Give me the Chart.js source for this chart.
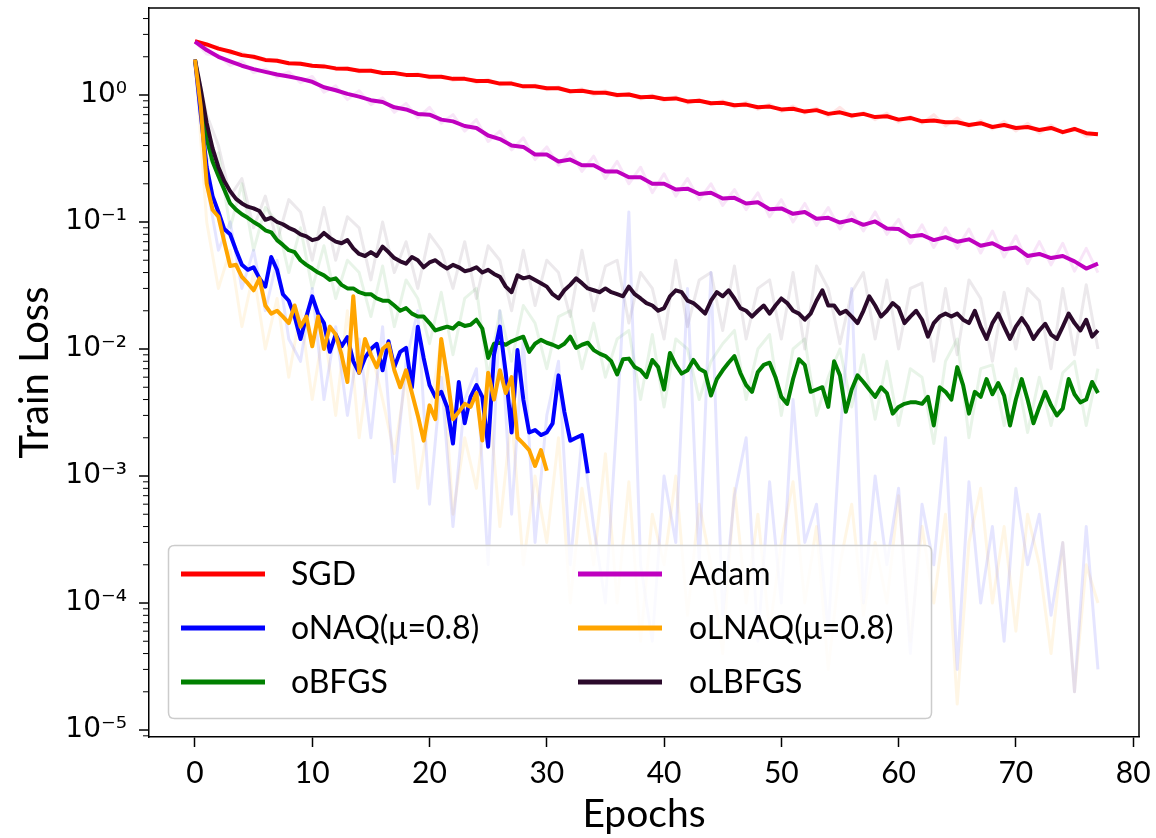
<!DOCTYPE html>
<html><head><meta charset="utf-8">
<script src="https://cdn.jsdelivr.net/npm/chart.js@4/dist/chart.umd.min.js"></script>
<style>html,body{margin:0;padding:0;background:#fff}#wrap{width:1156px;height:838px;position:relative}</style>
</head><body><div id="wrap"><canvas id="c"></canvas></div>
<script>
// ---------- data ----------
const xTickValues = [0,10,20,30,40,50,60,70,80];
const yMajorTicks = [1e-5,1e-4,1e-3,1e-2,1e-1,1];
const yTickLabels = ['10\u207B\u2075','10\u207B\u2074','10\u207B\u00B3','10\u207B\u00B2','10\u207B\u00B9','10\u2070'];

// smoothed curves; SGD/Adam sampled every 1 epoch, others every 0.5 epoch
const sgdLoss = [2.65,2.50,2.32,2.20,2.06,2.00,1.89,1.86,1.78,1.76,1.70,1.68,1.62,1.61,1.55,1.55,1.49,1.49,1.44,1.44,1.39,1.39,1.34,1.34,1.29,1.29,1.23,1.23,1.17,1.17,1.13,1.13,1.07,1.08,1.04,1.04,1.00,1.01,0.96,0.97,0.93,0.94,0.89,0.90,0.86,0.87,0.83,0.84,0.80,0.81,0.77,0.78,0.74,0.76,0.71,0.73,0.69,0.71,0.67,0.68,0.64,0.66,0.62,0.63,0.61,0.61,0.58,0.60,0.56,0.58,0.55,0.56,0.53,0.55,0.51,0.54,0.50,0.49];
const adamLoss = [2.63,2.26,2.00,1.84,1.70,1.60,1.52,1.45,1.40,1.34,1.27,1.15,1.09,1.02,0.97,0.91,0.88,0.80,0.77,0.71,0.70,0.64,0.62,0.57,0.55,0.48,0.45,0.40,0.39,0.34,0.34,0.30,0.31,0.28,0.28,0.25,0.25,0.225,0.225,0.20,0.20,0.18,0.183,0.166,0.17,0.153,0.155,0.14,0.143,0.126,0.128,0.116,0.12,0.106,0.108,0.099,0.104,0.095,0.101,0.089,0.088,0.077,0.079,0.072,0.076,0.070,0.073,0.065,0.068,0.061,0.063,0.054,0.056,0.052,0.054,0.049,0.043,0.047];
const onaqLoss = [1.9,0.7,0.27,0.16,0.12,0.088,0.08,0.06,0.046,0.042,0.044,0.036,0.031,0.053,0.042,0.027,0.024,0.018,0.012,0.018,0.026,0.019,0.016,0.0095,0.013,0.0105,0.0124,0.008,0.0065,0.0085,0.01,0.011,0.0068,0.0115,0.0072,0.0095,0.0102,0.005,0.015,0.0085,0.0052,0.0042,0.0046,0.0035,0.0018,0.0055,0.0026,0.0042,0.0052,0.0042,0.0017,0.009,0.015,0.0065,0.0022,0.0098,0.004,0.0022,0.0023,0.0021,0.0022,0.0026,0.0062,0.0032,0.0019,0.002,0.0021,0.00105];
const olnaqLoss = [1.9,0.8,0.2,0.125,0.11,0.07,0.045,0.046,0.037,0.033,0.029,0.036,0.022,0.019,0.02,0.018,0.016,0.022,0.015,0.018,0.0105,0.018,0.01,0.015,0.013,0.009,0.0055,0.026,0.0065,0.012,0.009,0.0072,0.01,0.011,0.0068,0.005,0.0068,0.0045,0.003,0.0019,0.0036,0.0028,0.012,0.0062,0.0028,0.0032,0.0037,0.0035,0.0045,0.0019,0.0065,0.004,0.0068,0.0045,0.006,0.002,0.0018,0.0016,0.0012,0.0016,0.0011];
const obfgsLoss = [1.9,0.9,0.45,0.30,0.23,0.18,0.14,0.125,0.115,0.108,0.10,0.094,0.086,0.083,0.072,0.066,0.06,0.058,0.05,0.046,0.043,0.040,0.038,0.035,0.036,0.032,0.030,0.030,0.028,0.027,0.027,0.025,0.024,0.024,0.022,0.020,0.021,0.019,0.018,0.018,0.016,0.014,0.0145,0.015,0.0145,0.016,0.0152,0.0155,0.017,0.0145,0.0085,0.011,0.0112,0.0108,0.0115,0.012,0.0125,0.0095,0.011,0.0118,0.0112,0.0108,0.0103,0.011,0.0125,0.0102,0.0108,0.0112,0.0098,0.0092,0.0088,0.0080,0.0063,0.0083,0.0084,0.0072,0.0068,0.0060,0.0082,0.0072,0.0048,0.0093,0.0075,0.0064,0.0068,0.0082,0.0070,0.0066,0.0043,0.0058,0.0068,0.0078,0.0088,0.0065,0.0052,0.0046,0.0066,0.0075,0.0078,0.0060,0.0042,0.0037,0.0058,0.0083,0.0075,0.0046,0.0048,0.0050,0.0035,0.0080,0.0062,0.0032,0.0048,0.0062,0.0055,0.0048,0.0042,0.0050,0.0045,0.0031,0.0035,0.0037,0.0038,0.0038,0.0037,0.0042,0.0025,0.0050,0.0046,0.0040,0.0072,0.0052,0.0031,0.0046,0.0042,0.0058,0.0044,0.0054,0.0043,0.0025,0.0040,0.0058,0.0040,0.0026,0.0035,0.0046,0.0036,0.0030,0.0034,0.0058,0.0044,0.0038,0.0040,0.0055,0.0045];
const olbfgsLoss = [1.9,1.1,0.60,0.38,0.27,0.21,0.175,0.152,0.14,0.132,0.128,0.122,0.104,0.108,0.10,0.096,0.09,0.086,0.08,0.077,0.072,0.074,0.082,0.075,0.070,0.068,0.072,0.062,0.056,0.054,0.058,0.054,0.064,0.058,0.052,0.049,0.047,0.053,0.050,0.044,0.048,0.050,0.046,0.043,0.046,0.044,0.041,0.042,0.044,0.040,0.042,0.039,0.037,0.031,0.028,0.038,0.036,0.037,0.035,0.033,0.031,0.027,0.025,0.029,0.032,0.036,0.033,0.030,0.029,0.028,0.030,0.028,0.027,0.026,0.031,0.027,0.025,0.023,0.022,0.020,0.021,0.026,0.029,0.028,0.024,0.023,0.021,0.019,0.024,0.028,0.026,0.029,0.025,0.021,0.020,0.018,0.020,0.022,0.019,0.022,0.025,0.023,0.020,0.019,0.017,0.019,0.024,0.029,0.022,0.022,0.019,0.020,0.018,0.016,0.020,0.026,0.022,0.018,0.020,0.023,0.021,0.016,0.018,0.020,0.017,0.0125,0.016,0.018,0.019,0.018,0.019,0.017,0.016,0.020,0.015,0.012,0.016,0.019,0.015,0.012,0.015,0.0175,0.015,0.012,0.014,0.0158,0.013,0.012,0.015,0.019,0.016,0.014,0.017,0.0125,0.014];

// raw (unsmoothed) losses, every 1 epoch, drawn faint
const sgdRaw = [2.7,2.4,2.4,2.1,2.15,1.95,1.85,1.9,1.75,1.8,1.68,1.72,1.58,1.65,1.52,1.58,1.46,1.5,1.42,1.48,1.36,1.4,1.3,1.36,1.25,1.33,1.2,1.26,1.15,1.2,1.1,1.16,1.05,1.12,1.0,1.08,0.97,1.03,0.93,1.0,0.9,0.97,0.86,0.92,0.84,0.9,0.8,0.88,0.77,0.85,0.74,0.82,0.72,0.79,0.68,0.8,0.67,0.73,0.64,0.72,0.61,0.68,0.6,0.7,0.57,0.66,0.56,0.63,0.54,0.62,0.52,0.6,0.5,0.58,0.5,0.55,0.47,0.5];
const adamRaw = [2.63,2.1,2.05,1.7,1.85,1.5,1.6,1.38,1.52,1.25,1.4,1.05,1.18,0.92,1.08,0.84,0.95,0.73,0.86,0.66,0.8,0.6,0.7,0.52,0.64,0.43,0.52,0.37,0.46,0.31,0.39,0.28,0.36,0.25,0.33,0.22,0.3,0.2,0.27,0.17,0.24,0.16,0.22,0.15,0.2,0.135,0.18,0.125,0.17,0.11,0.15,0.1,0.14,0.094,0.13,0.088,0.12,0.085,0.12,0.08,0.105,0.068,0.095,0.063,0.09,0.062,0.088,0.057,0.085,0.053,0.078,0.047,0.07,0.046,0.068,0.041,0.062,0.04];
const onaqRaw = [1.9,0.2,0.06,0.1,0.03,0.06,0.02,0.05,0.012,0.008,0.03,0.004,0.015,0.003,0.012,0.002,0.015,0.0009,0.008,0.02,0.0006,0.006,0.0004,0.004,0.007,0.0002,0.02,0.0005,0.012,0.0003,0.003,0.008,0.0002,0.002,0.0004,0.0001,0.003,0.12,0.0002,0.00005,0.001,0.0003,0.03,0.0002,0.04,0.00008,0.0007,0.002,0.00005,0.0009,0.0001,0.004,0.0003,0.0006,0.00006,0.002,0.03,0.0001,0.001,0.0002,0.0008,0.00004,0.0006,0.0002,0.002,0.00003,0.0009,0.0001,0.0004,0.00005,0.0008,0.0002,0.0005,0.00008,0.0003,0.00002,0.0004,0.00003];
const olnaqRaw = [1.9,0.1,0.03,0.06,0.015,0.04,0.01,0.025,0.006,0.02,0.004,0.015,0.003,0.02,0.002,0.01,0.004,0.0015,0.006,0.0008,0.003,0.012,0.0005,0.002,0.0008,0.005,0.0004,0.003,0.0002,0.001,0.0003,0.002,0.0001,0.0008,0.0002,0.0015,0.0001,0.0009,0.00005,0.0005,0.0002,0.001,0.00008,0.0006,0.0002,0.00004,0.0008,0.0001,0.0005,0.00006,0.0003,0.0009,0.0001,0.0004,0.00003,0.0002,0.0006,0.00008,0.0003,0.0001,0.0007,0.00005,0.0004,0.0001,0.0005,0.000016,0.0003,0.0008,0.0001,0.0004,0.00006,0.0005,0.0002,0.00004,0.0003,0.00002,0.0002,0.0001];
const obfgsRaw = [1.9,0.3,0.35,0.09,0.2,0.06,0.13,0.1,0.04,0.09,0.03,0.065,0.025,0.05,0.04,0.018,0.045,0.015,0.035,0.025,0.011,0.028,0.009,0.025,0.03,0.006,0.02,0.008,0.022,0.016,0.007,0.018,0.02,0.007,0.016,0.006,0.012,0.014,0.004,0.013,0.0035,0.012,0.01,0.004,0.008,0.011,0.014,0.004,0.01,0.013,0.003,0.01,0.012,0.003,0.006,0.01,0.0035,0.009,0.0028,0.008,0.0025,0.007,0.006,0.0018,0.008,0.012,0.002,0.007,0.0075,0.0025,0.007,0.0022,0.006,0.0025,0.0065,0.008,0.0025,0.007];
const olbfgsRaw = [1.9,0.7,0.4,0.16,0.22,0.09,0.16,0.07,0.15,0.12,0.05,0.13,0.05,0.11,0.09,0.035,0.1,0.04,0.07,0.03,0.08,0.06,0.03,0.07,0.025,0.065,0.05,0.02,0.06,0.022,0.05,0.04,0.018,0.06,0.02,0.045,0.05,0.016,0.04,0.03,0.012,0.05,0.015,0.035,0.04,0.014,0.045,0.012,0.03,0.035,0.012,0.04,0.01,0.045,0.03,0.011,0.028,0.04,0.012,0.035,0.01,0.03,0.033,0.008,0.03,0.009,0.035,0.025,0.008,0.028,0.01,0.03,0.024,0.007,0.03,0.009,0.032,0.01];

const seriesNames = ['SGD','Adam','oNAQ(\u03BC=0.8)','oLNAQ(\u03BC=0.8)','oBFGS','oLBFGS'];
const seriesColors = ['#ff0000','#bf00bf','#0000ff','#ffa500','#008000','#2b0a2b'];
const fadedColors = ['rgba(255,0,0,0.1)','rgba(191,0,191,0.1)','rgba(0,0,255,0.1)','rgba(255,165,0,0.1)','rgba(0,128,0,0.09)','rgba(43,10,43,0.09)'];
const legendOrder = [0,2,4,1,3,5];

// ---------- build ----------
const smooth = [sgdLoss, adamLoss, onaqLoss, olnaqLoss, obfgsLoss, olbfgsLoss];
const smoothStep = [1,1,0.5,0.5,0.5,0.5];
const raw = [sgdRaw, adamRaw, onaqRaw, olnaqRaw, obfgsRaw, olbfgsRaw];
const toPts = (arr, step) => arr.map((v,i)=>({x:i*step, y:v}));
const datasets = [];
raw.forEach((arr,k)=>datasets.push({label:'raw '+seriesNames[k], data:toPts(arr,1), borderColor:fadedColors[k], borderWidth:3, pointRadius:0, order:100+k, fill:false, tension:0, borderJoinStyle:'round'}));
const drawOrder = [5,4,1,0,3,2];
smooth.forEach((arr,k)=>datasets.push({label:seriesNames[k], data:toPts(arr,smoothStep[k]), borderColor:seriesColors[k], borderWidth:4, pointRadius:0, order:drawOrder[k], fill:false, tension:0, borderJoinStyle:'round'}));

const yMinor = [];
for (let e=-6; e<=0; e++) for (let m=2; m<=9; m++) yMinor.push(m*Math.pow(10,e));
const yMin = Math.pow(10,-5.055), yMax = Math.pow(10,0.685);

const framePlugin = {
  id:'frame',
  afterDatasetsDraw(chart){
    const ctx = chart.ctx;
    ctx.save();
    const bx=168.5, by=545.5, bw=763, bh=173, r=6;
    ctx.beginPath();
    ctx.moveTo(bx+r,by); ctx.lineTo(bx+bw-r,by); ctx.quadraticCurveTo(bx+bw,by,bx+bw,by+r);
    ctx.lineTo(bx+bw,by+bh-r); ctx.quadraticCurveTo(bx+bw,by+bh,bx+bw-r,by+bh);
    ctx.lineTo(bx+r,by+bh); ctx.quadraticCurveTo(bx,by+bh,bx,by+bh-r);
    ctx.lineTo(bx,by+r); ctx.quadraticCurveTo(bx,by,bx+r,by); ctx.closePath();
    ctx.fillStyle='rgba(255,255,255,0.8)'; ctx.fill();
    ctx.strokeStyle='#cccccc'; ctx.lineWidth=1.5; ctx.stroke();
    const colX=[181,578], textX=[291,689], rowY=[574,628,682];
    ctx.font='32px Lato'; ctx.textBaseline='middle'; ctx.fillStyle='#000';
    legendOrder.forEach((k,i)=>{
      const c=Math.floor(i/3), rr=i%3;
      ctx.beginPath(); ctx.strokeStyle=seriesColors[k]; ctx.lineWidth=5;
      ctx.moveTo(colX[c],rowY[rr]); ctx.lineTo(colX[c]+84,rowY[rr]); ctx.stroke();
      ctx.fillText(seriesNames[k], textX[c], rowY[rr]+1);
    });
    ctx.restore();
  },
  afterDraw(chart){
    const ctx=chart.ctx, a=chart.chartArea, y=chart.scales.y;
    ctx.save(); ctx.strokeStyle='#000';
    yMajorTicks.forEach(v=>{const p=y.getPixelForValue(v); ctx.lineWidth=1.5; ctx.beginPath(); ctx.moveTo(a.left-10,p); ctx.lineTo(a.left,p); ctx.stroke();});
    yMinor.forEach(v=>{ if(v<yMin||v>yMax) return; const p=y.getPixelForValue(v); ctx.lineWidth=1; ctx.beginPath(); ctx.moveTo(a.left-6,p); ctx.lineTo(a.left,p); ctx.stroke();});
    ctx.lineWidth=1.5; ctx.beginPath(); ctx.moveTo(a.left,a.top); ctx.lineTo(a.right,a.top); ctx.lineTo(a.right,a.bottom); ctx.stroke();
    ctx.restore();
  }
};

new Chart(document.getElementById('c'), {
  type:'line',
  data:{datasets},
  options:{
    responsive:true, maintainAspectRatio:false, animation:false,
    layout:{padding:{left:0,top:8,right:17,bottom:0}},
    plugins:{legend:{display:false}, tooltip:{enabled:false}},
    scales:{
      x:{type:'linear', min:-3.92, max:80.5,
        afterBuildTicks:s=>{s.ticks=xTickValues.map(v=>({value:v}));},
        afterFit:s=>{s.height=101; s.paddingLeft=0; s.paddingRight=0;},
        ticks:{autoSkip:false, maxRotation:0, color:'#000', font:{family:'Lato', size:30}, padding:8, callback:v=>String(v)},
        grid:{drawOnChartArea:false, drawTicks:true, tickLength:10, tickWidth:1.5, tickColor:'#000'},
        border:{display:true, color:'#000', width:1.5},
        title:{display:true, text:'Epochs', color:'#000', font:{family:'Lato', size:39}, padding:{top:0,bottom:0}}
      },
      y:{type:'logarithmic', min:yMin, max:yMax,
        afterBuildTicks:s=>{s.ticks=yMajorTicks.map(v=>({value:v}));},
        afterFit:s=>{s.width=149; s.paddingTop=0; s.paddingBottom=0;},
        ticks:{autoSkip:false, color:'#000', font:{family:'DejaVu Sans', size:28}, padding:22, callback:v=>{const i=yMajorTicks.indexOf(v); return i>=0?yTickLabels[i]:'';}},
        grid:{display:true, drawOnChartArea:false, drawTicks:false},
        border:{display:true, color:'#000', width:1.5},
        title:{display:true, text:'Train Loss', color:'#000', font:{family:'Lato', size:40}, padding:{top:11,bottom:0}}
      }
    }
  },
  plugins:[framePlugin]
});
</script></body></html>
